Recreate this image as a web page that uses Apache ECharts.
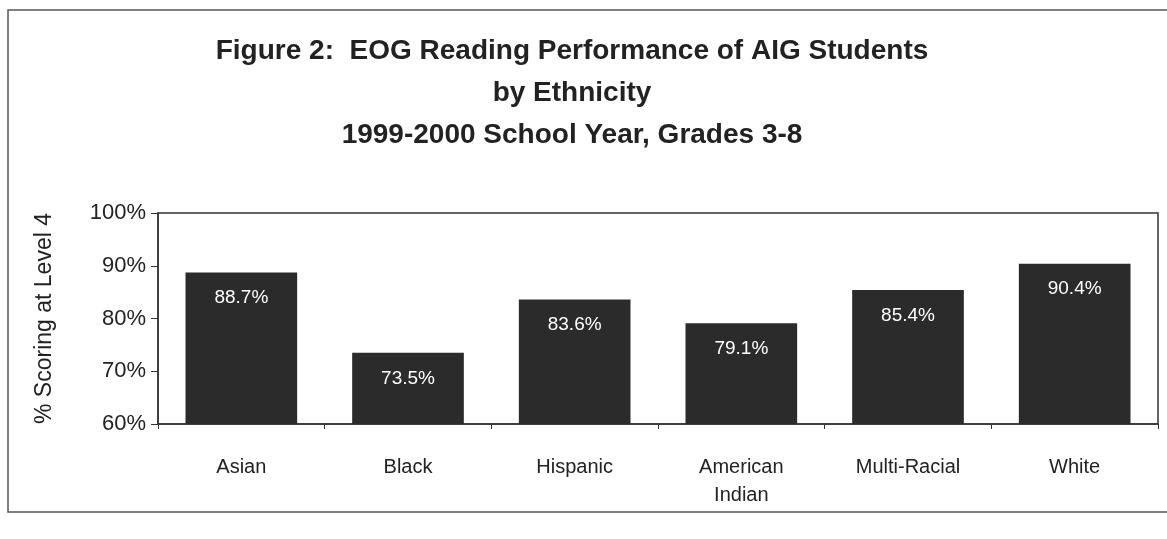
<!DOCTYPE html>
<html><head><meta charset="utf-8">
<script src="https://cdn.jsdelivr.net/npm/echarts@6/dist/echarts.min.js"></script>
<style>html,body{margin:0;padding:0;background:#fff}#c{width:1167px;height:539px}</style>
</head><body><div id="c"></div>
<script>
const categories = ["Asian", "Black", "Hispanic", "American\nIndian", "Multi-Racial", "White"];
const values = [88.7, 73.5, 83.6, 79.1, 85.4, 90.4];
const valueLabels = ["88.7%", "73.5%", "83.6%", "79.1%", "85.4%", "90.4%"];
const yTicks = [60, 70, 80, 90, 100];

const chart = echarts.init(document.getElementById('c'));
chart.setOption({
  backgroundColor: '#fff',
  animation: false,
  title: {
    text: 'Figure 2:  EOG Reading Performance of AIG Students\nby Ethnicity\n1999-2000 School Year, Grades 3-8',
    left: 567, top: 25, textAlign: 'center',
    textStyle: { fontFamily: 'Liberation Sans, Arial', fontSize: 28, fontWeight: 'bold', color: '#222', lineHeight: 42 }
  },
  graphic: [{
    type: 'rect', silent: true,
    shape: { x: 8, y: 10, width: 1170, height: 502 },
    style: { fill: 'none', stroke: '#555', lineWidth: 1.5 }
  }],
  grid: { left: 158, right: 9, top: 213, bottom: 115, show: true, borderColor: '#333', borderWidth: 1.5, backgroundColor: 'transparent' },
  xAxis: {
    type: 'category', data: categories,
    axisLine: { show: true, lineStyle: { color: '#333', width: 1.5 } },
    axisTick: { show: true, length: 5, lineStyle: { color: '#333' } },
    axisLabel: { fontFamily: 'Liberation Sans, Arial', fontSize: 20, color: '#222', margin: 29, lineHeight: 28 }
  },
  yAxis: {
    type: 'value', min: yTicks[0], max: yTicks[yTicks.length - 1], interval: 10,
    name: '% Scoring at Level 4', nameLocation: 'middle', nameGap: 102, nameRotate: 90,
    nameTextStyle: { fontFamily: 'Liberation Sans, Arial', fontSize: 23, color: '#222' },
    axisLine: { show: true, lineStyle: { color: '#333', width: 1.5 } },
    axisTick: { show: true, inside: false, length: 7, lineStyle: { color: '#333' } },
    splitLine: { show: false },
    axisLabel: { fontFamily: 'Liberation Sans, Arial', fontSize: 22, color: '#222', margin: 12, formatter: v => v + '%' }
  },
  series: [{
    type: 'bar', data: values, barCategoryGap: '33%',
    itemStyle: { color: '#2b2b2b' },
    label: {
      show: true, position: 'insideTop', distance: 16,
      color: '#fff', fontFamily: 'Liberation Sans, Arial', fontSize: 19,
      formatter: p => valueLabels[p.dataIndex]
    }
  }]
});
</script></body></html>
